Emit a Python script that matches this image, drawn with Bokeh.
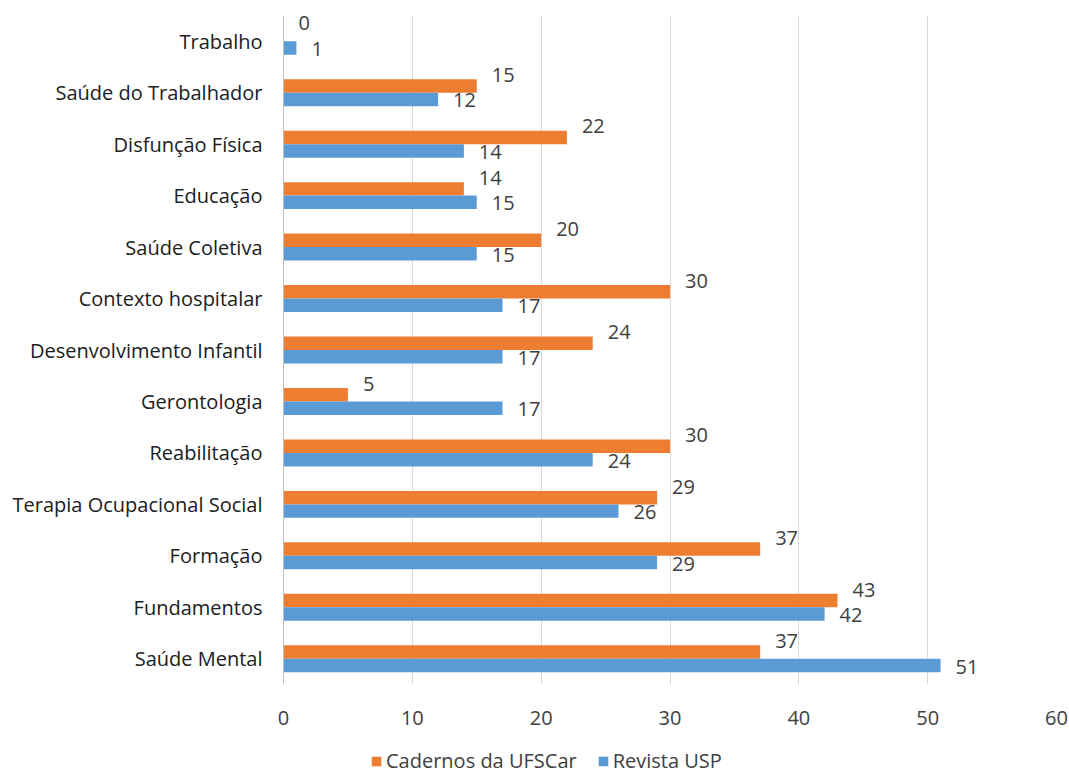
from bokeh.plotting import figure
from bokeh.models import ColumnDataSource, Legend, LegendItem, FactorRange
from bokeh.transform import dodge
from bokeh.layouts import column
from bokeh.core.properties import value
from bokeh.embed import file_html
from bokeh.resources import INLINE

categories = ["Saúde Mental", "Fundamentos", "Formação", "Terapia Ocupacional Social",
              "Reabilitação", "Gerontologia", "Desenvolvimento Infantil", "Contexto hospitalar",
              "Saúde Coletiva", "Educação", "Disfunção Física", "Saúde do Trabalhador", "Trabalho"]
cadernos_ufscar = [37, 43, 37, 29, 30, 5, 24, 30, 20, 14, 22, 15, 0]
revista_usp = [51, 42, 29, 26, 24, 17, 17, 17, 15, 15, 14, 12, 1]
x_ticks = [0, 10, 20, 30, 40, 50, 60]
series_names = ["Cadernos da UFSCar", "Revista USP"]

ORANGE = "#ED7D31"
BLUE = "#5B9BD5"
FONT = "Open Sans"
FS = "20px"

src = ColumnDataSource(dict(
    cat=categories,
    caf=cadernos_ufscar,
    usp=revista_usp,
    caf_t=[str(v) for v in cadernos_ufscar],
    usp_t=[str(v) for v in revista_usp],
))

p = figure(width=1069, height=740, y_range=FactorRange(*categories, range_padding=0),
           x_range=(0, 60), output_backend="svg", toolbar_location=None,
           min_border_left=283, min_border_right=13, min_border_top=15, min_border_bottom=56)
p.outline_line_color = None
p.background_fill_color = "white"
p.border_fill_color = "white"

r1 = p.hbar(y=dodge("cat", 0.131, range=p.y_range), left=0, right="caf", height=0.262,
            source=src, fill_color=ORANGE, line_color=None)
r2 = p.hbar(y=dodge("cat", -0.131, range=p.y_range), left=0, right="usp", height=0.262,
            source=src, fill_color=BLUE, line_color=None)

p.text(x="caf", y=dodge("cat", 0.131, range=p.y_range), text="caf_t", source=src,
       x_offset=15, y_offset=-11, text_font=value(FONT), text_font_size=FS,
       text_color="#404040", text_baseline="middle", text_align="left")
p.text(x="usp", y=dodge("cat", -0.131, range=p.y_range), text="usp_t", source=src,
       x_offset=15, y_offset=1, text_font=value(FONT), text_font_size=FS,
       text_color="#404040", text_baseline="middle", text_align="left")

p.ygrid.grid_line_color = None
p.xgrid.grid_line_color = "#D9D9D9"
p.xgrid.ticker = x_ticks

p.xaxis.ticker = x_ticks
p.xaxis.axis_line_color = None
p.xaxis.major_tick_line_color = None
p.xaxis.minor_tick_line_color = None
p.xaxis.major_label_text_font = FONT
p.xaxis.major_label_text_font_size = FS
p.xaxis.major_label_text_color = "#404040"
p.xaxis.major_label_standoff = 20

p.yaxis.axis_line_color = "#BFBFBF"
p.yaxis.major_tick_line_color = None
p.yaxis.minor_tick_line_color = None
p.yaxis.major_label_text_font = FONT
p.yaxis.major_label_text_font_size = FS
p.yaxis.major_label_text_color = "#202020"
p.yaxis.major_label_standoff = 15

# legend strip below the chart (swatch glyphs have zero extent, so nothing is drawn)
p2 = figure(width=1069, height=34, x_range=(0, 1), y_range=(0, 1), output_backend="svg",
            toolbar_location=None, min_border=0)
p2.axis.visible = False
p2.grid.visible = False
p2.outline_line_color = None
p2.border_fill_color = "white"
hidden = ColumnDataSource(dict(y=[0.5], left=[0.5], right=[0.5]))
l1 = p2.hbar(y="y", left="left", right="right", height=0.0, source=hidden,
             fill_color=ORANGE, line_color=None)
l2 = p2.hbar(y="y", left="left", right="right", height=0.0, source=hidden,
             fill_color=BLUE, line_color=None)

legend = Legend(items=[LegendItem(label=series_names[0], renderers=[l1]),
                       LegendItem(label=series_names[1], renderers=[l2])],
                orientation="horizontal", location=(87, 0),
                label_text_font=FONT, label_text_font_size=FS, label_text_color="#404040",
                glyph_width=12, glyph_height=12, label_standoff=4, spacing=20,
                border_line_color=None, background_fill_alpha=0, padding=0, margin=0)
p2.add_layout(legend, "center")

open("out.html", "w").write(file_html(column(p, p2, spacing=0), INLINE))
